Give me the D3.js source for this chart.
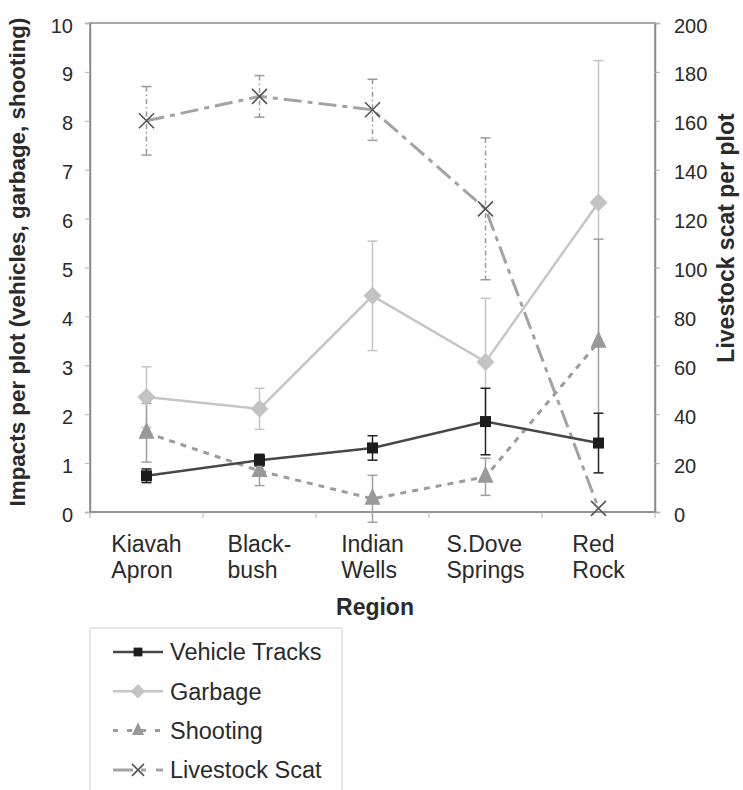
<!DOCTYPE html>
<html><head><meta charset="utf-8">
<script src="https://cdn.jsdelivr.net/npm/d3@7"></script>
<style>body{margin:0;background:#fff;} svg{display:block;font-family:"Liberation Sans",Arial,sans-serif;}</style>
</head><body>
<svg id="c" width="743" height="790"></svg>
<script>
const categories = [["Kiavah","Apron"],["Black-","bush"],["Indian","Wells"],["S.Dove","Springs"],["Red","Rock"]];
const catKeys = categories.map(d => d.join(" "));
const leftTicks = [0,1,2,3,4,5,6,7,8,9,10];
const rightTicks = [0,20,40,60,80,100,120,140,160,180,200];

const vehicleMean = [0.74, 1.06, 1.31, 1.85, 1.41];
const vehicleErr  = [0.14, 0.12, 0.25, 0.68, 0.61];
const garbageMean = [2.35, 2.11, 4.42, 3.07, 6.33];
const garbageErr  = [0.62, 0.42, 1.12, 1.30, 2.90];
const shootingMean = [1.62, 0.84, 0.27, 0.72, 3.48];
const shootingErr  = [0.60, 0.30, 0.48, 0.38, 2.10];
const livestockMean = [160, 170, 164.5, 124, 1.5];
const livestockErr  = [14, 8.5, 12.5, 29, 0];

const svg = d3.select("#c");
const L = 90, R = 655, T = 23, B = 512;
const x = d3.scaleBand().domain(catKeys).range([L, R]).paddingInner(0).paddingOuter(0);
const cx = i => x(catKeys[i]) + x.bandwidth() / 2;
const yL = d3.scaleLinear().domain([0, 10]).range([B, T]);
const yR = d3.scaleLinear().domain([0, 200]).range([B, T]);

const axisColor = "#8c8c8c", textColor = "#2a2a2a";

// frame
svg.append("rect").attr("x", L).attr("y", T).attr("width", R - L).attr("height", B - T)
  .attr("fill", "none").attr("stroke", axisColor).attr("stroke-width", 1.5);

// left axis
const la = svg.append("g").attr("transform", `translate(${L},0)`)
  .call(d3.axisLeft(yL).tickValues(leftTicks).tickSize(5).tickPadding(12).tickFormat(d3.format("d")));
la.select(".domain").attr("stroke", axisColor).attr("stroke-width", 1.5);
la.selectAll(".tick line").attr("stroke", "#b0b0b0");
la.selectAll("text").attr("font-size", 20).attr("fill", textColor).attr("font-family", "Liberation Sans, Arial").attr("dy", "0.45em");

// right axis
const ra = svg.append("g").attr("transform", `translate(${R},0)`)
  .call(d3.axisRight(yR).tickValues(rightTicks).tickSize(5).tickPadding(14).tickFormat(d3.format("d")));
ra.select(".domain").attr("stroke", axisColor).attr("stroke-width", 1.5);
ra.selectAll(".tick line").attr("stroke", "#b0b0b0");
ra.selectAll("text").attr("font-size", 20).attr("fill", textColor).attr("font-family", "Liberation Sans, Arial").attr("dy", "0.45em");

// bottom axis line + boundary ticks
svg.append("line").attr("x1", L).attr("x2", R).attr("y1", B).attr("y2", B).attr("stroke", axisColor).attr("stroke-width", 1.5);
const edges = [x(catKeys[0])].concat(catKeys.map(k => x(k) + x.bandwidth()));
svg.selectAll(".xt").data(edges).enter().append("line")
  .attr("x1", d => d).attr("x2", d => d).attr("y1", B).attr("y2", B + 6)
  .attr("stroke", "#b0b0b0").attr("stroke-width", 1);

// category labels: two lines, left aligned, block centred on the category
const cl = svg.selectAll(".cl").data(categories).enter().append("text")
  .attr("font-size", 23).attr("fill", textColor);
cl.each(function(d, i) {
  const t = d3.select(this);
  const a = t.append("tspan").attr("y", 552).text(d[0]);
  const b = t.append("tspan").attr("y", 578).text(d[1]);
  const w = Math.max(a.node().getComputedTextLength(), b.node().getComputedTextLength());
  const x0 = cx(i) - w / 2;
  a.attr("x", x0); b.attr("x", x0);
});

// axis titles
svg.append("text").attr("x", 375).attr("y", 615).attr("text-anchor", "middle")
  .attr("font-size", 23).attr("font-weight", "bold").attr("fill", textColor).text("Region");
svg.append("text").attr("transform", "translate(25,262) rotate(-90)").attr("text-anchor", "middle")
  .attr("font-size", 22.4).attr("font-weight", "bold").attr("fill", textColor)
  .text("Impacts per plot (vehicles, garbage, shooting)");
svg.append("text").attr("transform", "translate(734,238) rotate(-90)").attr("text-anchor", "middle")
  .attr("font-size", 23).attr("font-weight", "bold").attr("fill", textColor)
  .text("Livestock scat per plot");

// series definitions
const series = [
  {name: "Livestock Scat", mean: livestockMean, err: livestockErr, y: yR,
   line: "#a3a3a3", lw: 3, dash: "18,6,5,6", errColor: "#9a9a9a", errDash: "5,3,1.5,3", marker: "x", mColor: "#555"},
  {name: "Garbage", mean: garbageMean, err: garbageErr, y: yL,
   line: "#c6c6c6", lw: 2.5, dash: null, errColor: "#c6c6c6", errDash: null, marker: "diamond", mColor: "#c3c3c3"},
  {name: "Shooting", mean: shootingMean, err: shootingErr, y: yL,
   line: "#9c9c9c", lw: 3, dash: "6,6", errColor: "#a0a0a0", errDash: null, marker: "triangle", mColor: "#999"},
  {name: "Vehicle Tracks", mean: vehicleMean, err: vehicleErr, y: yL,
   line: "#474747", lw: 2.5, dash: null, errColor: "#222", errDash: null, marker: "square", mColor: "#1c1c1c"}
];

function drawMarker(g, type, color, px, py, scale) {
  const s = scale || 1;
  if (type === "square") {
    g.append("rect").attr("x", px - 5.5*s).attr("y", py - 5.5*s).attr("width", 11*s).attr("height", 11*s).attr("fill", color);
  } else if (type === "diamond") {
    const r = 9*s;
    g.append("path").attr("d", `M${px},${py - r}L${px + r},${py}L${px},${py + r}L${px - r},${py}Z`).attr("fill", color);
  } else if (type === "triangle") {
    g.append("path").attr("d", `M${px},${py - 11*s}L${px + 8*s},${py + 6*s}L${px - 8*s},${py + 6*s}Z`).attr("fill", color);
  } else if (type === "x") {
    const r = 7.5*s;
    g.append("path").attr("d", `M${px-r},${py-r}L${px+r},${py+r}M${px-r},${py+r}L${px+r},${py-r}`)
      .attr("stroke", color).attr("stroke-width", 1.6).attr("fill", "none");
  }
}

const plot = svg.append("g");
// error bars first
series.forEach(s => {
  const g = plot.append("g");
  s.mean.forEach((m, i) => {
    if (!s.err[i]) return;
    const y1 = s.y(m + s.err[i]), y2 = s.y(m - s.err[i]), px = cx(i);
    g.append("line").attr("x1", px).attr("x2", px).attr("y1", y1).attr("y2", y2)
      .attr("stroke", s.errColor).attr("stroke-width", 1.5).attr("stroke-dasharray", s.errDash);
    [y1, y2].forEach(yy => g.append("line").attr("x1", px - 5).attr("x2", px + 5).attr("y1", yy).attr("y2", yy)
      .attr("stroke", s.errColor).attr("stroke-width", 1.5));
  });
});
// lines and markers
series.forEach(s => {
  const g = plot.append("g");
  const lineGen = d3.line().x((d, i) => cx(i)).y(d => s.y(d));
  g.append("path").attr("d", lineGen(s.mean)).attr("fill", "none").attr("stroke", s.line)
    .attr("stroke-width", s.lw).attr("stroke-dasharray", s.dash);
  s.mean.forEach((m, i) => drawMarker(g, s.marker, s.mColor, cx(i), s.y(m)));
});

// legend
const lg = svg.append("g");
lg.append("rect").attr("x", 90).attr("y", 628).attr("width", 252).attr("height", 175)
  .attr("fill", "#fff").attr("stroke", "#d0d0d0").attr("stroke-width", 1);
const legendOrder = ["Vehicle Tracks", "Garbage", "Shooting", "Livestock Scat"];
legendOrder.forEach((name, k) => {
  const s = series.find(d => d.name === name);
  const yy = 652 + k * 39.3;
  lg.append("line").attr("x1", 113).attr("x2", 163).attr("y1", yy).attr("y2", yy)
    .attr("stroke", s.line).attr("stroke-width", s.lw)
    .attr("stroke-dasharray", name === "Shooting" ? "5,9" : name === "Livestock Scat" ? "20,8,5,10" : null);
  drawMarker(lg, s.marker, s.mColor, 138, yy, name === "Shooting" ? 0.75 : 0.8);
  lg.append("text").attr("x", 170).attr("y", yy).attr("dy", "0.36em").attr("font-size", 23.5)
    .attr("fill", textColor).text(name);
});
</script>
</body></html>
